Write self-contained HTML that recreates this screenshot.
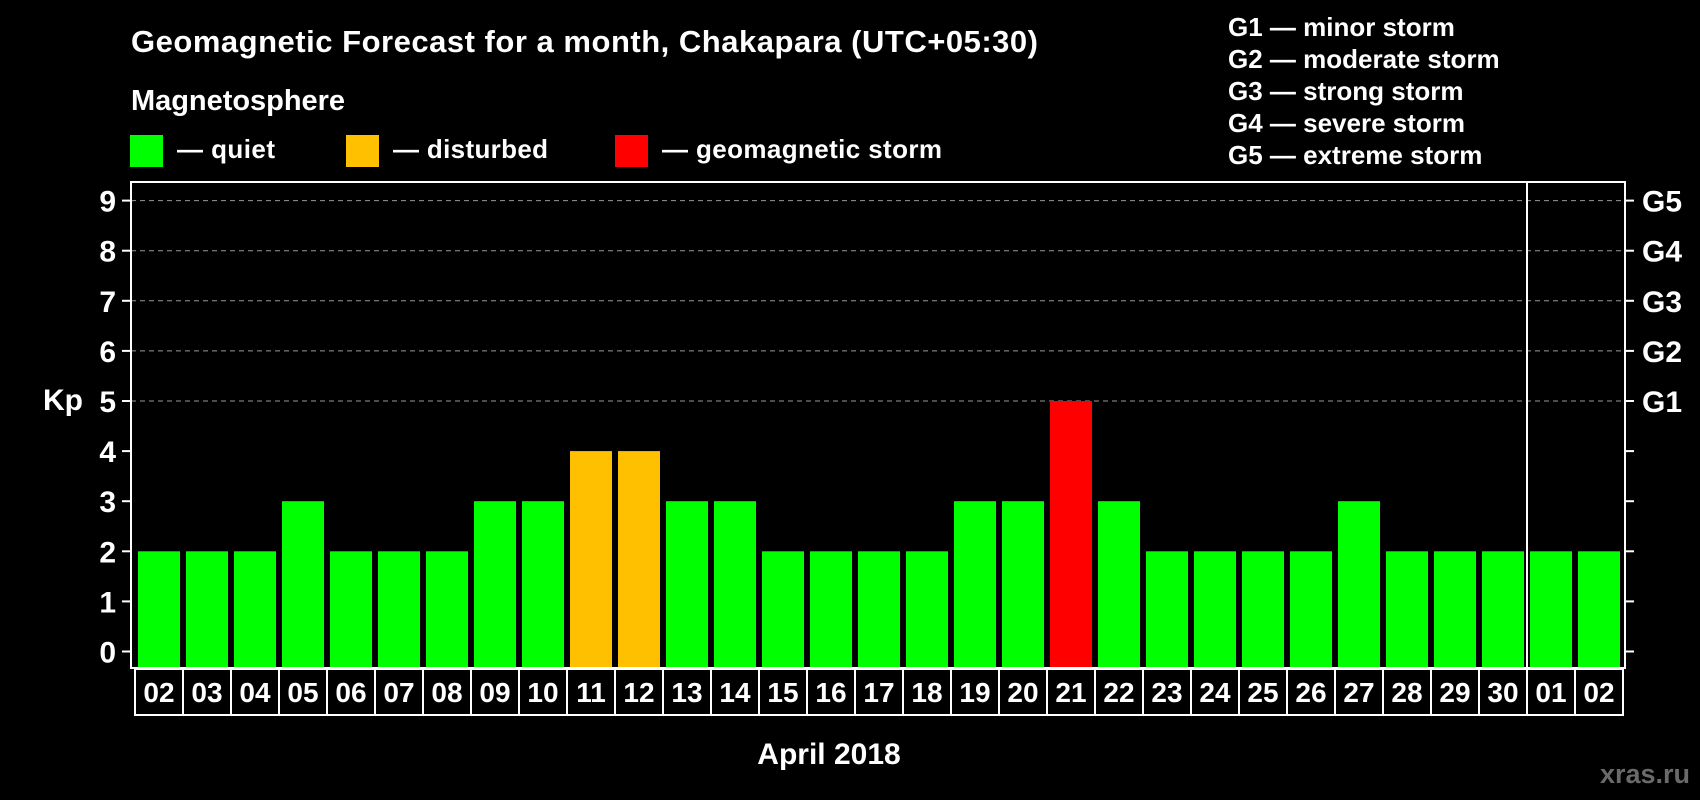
<!DOCTYPE html>
<html><head><meta charset="utf-8"><style>
body{margin:0;background:#000;}
svg{display:block;font-family:"Liberation Sans",Arial,sans-serif;font-weight:bold;}
</style></head><body>
<svg id="chart" width="1700" height="800" viewBox="0 0 1700 800" xmlns="http://www.w3.org/2000/svg">
<rect width="1700" height="800" fill="#000"/>
<text x="131" y="52" fill="#fff" font-size="31" textLength="907">Geomagnetic Forecast for a month, Chakapara (UTC+05:30)</text>
<text x="131" y="110" fill="#fff" font-size="29" textLength="214">Magnetosphere</text>
<g><rect x="130" y="135" width="33" height="32" fill="#00ff00"/><text x="177" y="158" fill="#fff" font-size="26" textLength="98">— quiet</text></g>
<g><rect x="346" y="135" width="33" height="32" fill="#ffc000"/><text x="393" y="158" fill="#fff" font-size="26" textLength="155">— disturbed</text></g>
<g><rect x="615" y="135" width="33" height="32" fill="#ff0000"/><text x="662" y="158" fill="#fff" font-size="26" textLength="280">— geomagnetic storm</text></g>
<g fill="#fff" font-size="26">
<text x="1228" y="36">G1 — minor storm</text>
<text x="1228" y="68">G2 — moderate storm</text>
<text x="1228" y="100">G3 — strong storm</text>
<text x="1228" y="132">G4 — severe storm</text>
<text x="1228" y="164">G5 — extreme storm</text>
</g>
<text x="63" y="410" fill="#fff" font-size="30" text-anchor="middle">Kp</text>
<text x="829" y="764" fill="#fff" font-size="30" text-anchor="middle">April 2018</text>
<text x="1690" y="783" fill="#6a6a6a" font-size="27" text-anchor="end">xras.ru</text>
<g id="plot"></g>
</svg>
<script>
const days=["02","03","04","05","06","07","08","09","10","11","12","13","14","15","16","17","18","19","20","21","22","23","24","25","26","27","28","29","30","01","02"];
const kp=[2,2,2,3,2,2,2,3,3,4,4,3,3,2,2,2,2,3,3,5,3,2,2,2,2,3,2,2,2,2,2];
const yTicks=[0,1,2,3,4,5,6,7,8,9];
const gLabels=["G1","G2","G3","G4","G5"];
const NS="http://www.w3.org/2000/svg";
const g=document.getElementById('plot');
const L=131,R=1625,T=182,B=668;
const y=v=>651.5-v*50.1;
const x0=138,pitch=48,bw=42;
const xb=i=>x0+i*pitch;
function mk(t,a){const e=document.createElementNS(NS,t);for(const k in a)e.setAttribute(k,a[k]);g.appendChild(e);return e;}
yTicks.forEach(v=>{
  if(v>=5){const l=mk('line',{x1:L,x2:R,y1:y(v),y2:y(v),stroke:'#999','stroke-dasharray':'5,4','stroke-width':1});
  
  }
  const t1=mk('line',{x1:122,x2:L,y1:y(v),y2:y(v),stroke:'#fff','stroke-width':2});
  
  
  const t2=mk('line',{x1:R,x2:1634,y1:y(v),y2:y(v),stroke:'#fff','stroke-width':2});
  
  
  const tx=mk('text',{x:116,y:y(v)+11,fill:'#fff','font-size':30,'text-anchor':'end'});
  tx.textContent=v;
  
  
  if(v>=5){const gt=mk('text',{x:1642,y:y(v)+11,fill:'#fff','font-size':30});
  gt.textContent=gLabels[v-5];
  
  }
});
kp.forEach((v,i)=>{
  const c=v>=5?'#ff0000':(v>=4?'#ffc000':'#00ff00');
  const r=mk('rect',{x:xb(i),y:y(v),width:bw,height:B-y(v),fill:c});
  
  
});
const fr=mk('rect',{x:L,y:T,width:R-L,height:B-T,fill:'none',stroke:'#fff','stroke-width':2});


const sep=mk('line',{x1:xb(29)-3,x2:xb(29)-3,y1:T,y2:B,stroke:'#fff','stroke-width':2});


const bx0=xb(0)-3;
const box=mk('rect',{x:bx0,y:B+1,width:days.length*pitch,height:46,fill:'none',stroke:'#fff','stroke-width':2});


days.forEach((d,i)=>{
  if(i>0){const l=mk('line',{x1:bx0+i*pitch,x2:bx0+i*pitch,y1:B,y2:B+47,stroke:'#fff','stroke-width':2});
  
  }
  const t=mk('text',{x:xb(i)+bw/2,y:B+34,fill:'#fff','font-size':28,'text-anchor':'middle'});
  t.textContent=d;
  
  
});
</script>
</body></html>
